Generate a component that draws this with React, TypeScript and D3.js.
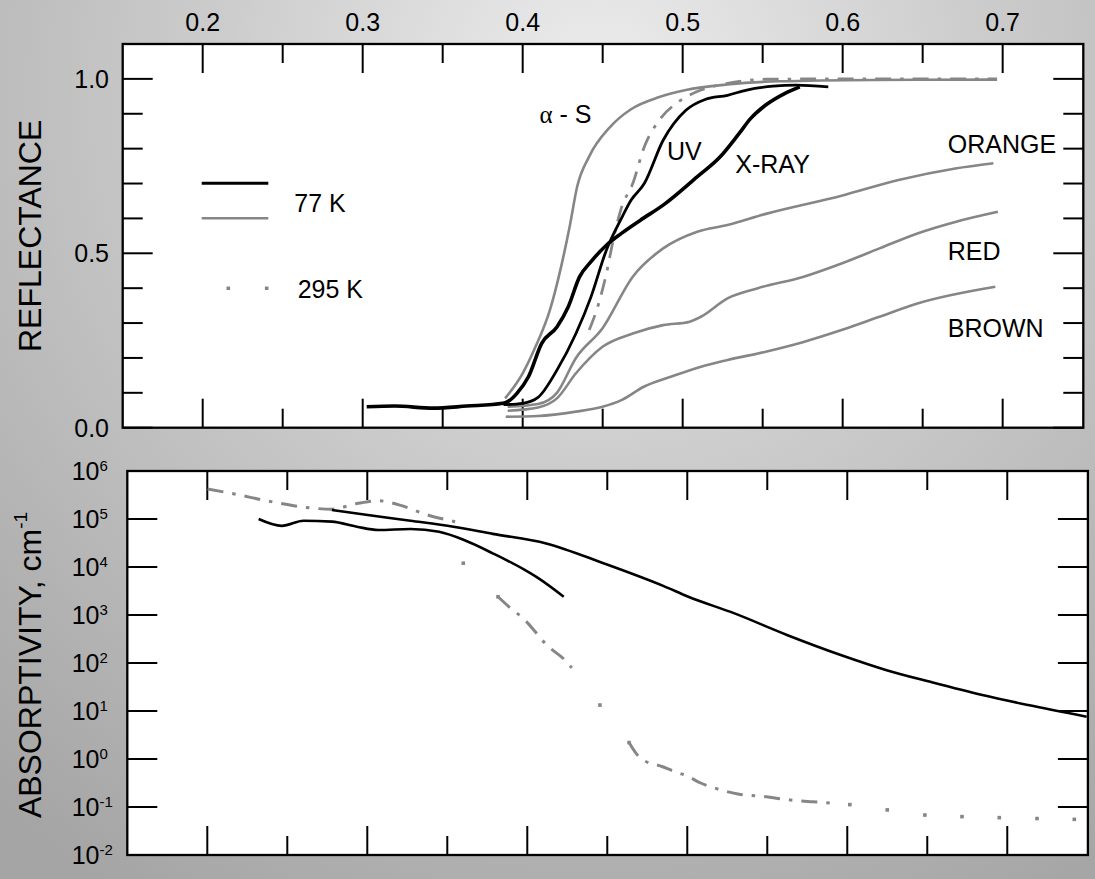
import React from "react";
import * as d3 from "d3";

// ---------- DATA ----------
// Wavelength (µm) ticks
const xMajorTicks = [0.2, 0.3, 0.4, 0.5, 0.6, 0.7];
const xMinorTicks = [0.25, 0.35, 0.45, 0.55, 0.65];
const reflMajorTicks = [0, 0.5, 1.0];
const reflMinorTicks = [0.1, 0.2, 0.3, 0.4, 0.6, 0.7, 0.8, 0.9];
const reflTickLabels = ["0.0", "0.5", "1.0"];
const absDecades = [-2, -1, 0, 1, 2, 3, 4, 5, 6];

// Reflectance curves [wavelength, reflectance]
const reflXray: [number, number][] = [
  [0.3025, 0.06], [0.32, 0.062], [0.344, 0.056], [0.365, 0.062], [0.3877, 0.07],
  [0.3906, 0.0745], [0.3964, 0.0985], [0.4036, 0.146], [0.4119, 0.242], [0.4214, 0.289],
  [0.4285, 0.347], [0.4356, 0.433], [0.4427, 0.476], [0.4523, 0.523], [0.4617, 0.557],
  [0.4736, 0.595], [0.4878, 0.638], [0.509, 0.719], [0.5233, 0.776], [0.5352, 0.843],
  [0.5424, 0.886], [0.5519, 0.925], [0.5637, 0.958], [0.5732, 0.977],
];
const reflUV: [number, number][] = [
  [0.388, 0.066], [0.4, 0.07], [0.4096, 0.087], [0.4214, 0.165], [0.4333, 0.27],
  [0.4427, 0.375], [0.4523, 0.509], [0.4617, 0.6], [0.4677, 0.652], [0.476, 0.7],
  [0.4878, 0.824], [0.502, 0.91], [0.514, 0.941], [0.528, 0.953], [0.54, 0.968],
  [0.5566, 0.979], [0.5708, 0.982], [0.591, 0.977],
];
const reflAlphaS: [number, number][] = [
  [0.389, 0.084], [0.4, 0.156], [0.408, 0.232], [0.417, 0.337], [0.424, 0.461],
  [0.4295, 0.58], [0.434, 0.69], [0.4416, 0.778], [0.4546, 0.862], [0.4677, 0.913],
  [0.4854, 0.948], [0.502, 0.968], [0.528, 0.984], [0.56, 0.993], [0.62, 0.997], [0.6965, 0.998],
];
const refl295K: [number, number][] = [
  [0.4416, 0.28], [0.4475, 0.356], [0.4523, 0.442], [0.457, 0.547], [0.4617, 0.63],
  [0.4688, 0.7], [0.476, 0.805], [0.4854, 0.882], [0.4973, 0.934], [0.5114, 0.968],
  [0.528, 0.987], [0.552, 0.999], [0.6, 1.0], [0.6965, 1.0],
];
const reflOrange: [number, number][] = [
  [0.3906, 0.06], [0.4096, 0.068], [0.4214, 0.1], [0.4333, 0.2], [0.4499, 0.285],
  [0.4688, 0.433], [0.4878, 0.514], [0.5091, 0.562], [0.528, 0.581], [0.552, 0.613],
  [0.5993, 0.665], [0.6349, 0.71], [0.6704, 0.743], [0.6942, 0.758],
];
const reflRed: [number, number][] = [
  [0.3906, 0.0487], [0.4096, 0.058], [0.4214, 0.084], [0.4333, 0.156], [0.4499, 0.232],
  [0.4688, 0.27], [0.4878, 0.294], [0.5044, 0.304], [0.5114, 0.318], [0.528, 0.371],
  [0.547, 0.4], [0.5756, 0.433], [0.5993, 0.471], [0.623, 0.514], [0.6467, 0.557],
  [0.6704, 0.59], [0.697, 0.619],
];
const reflBrown: [number, number][] = [
  [0.3894, 0.0315], [0.4096, 0.0335], [0.4333, 0.046], [0.4499, 0.06], [0.4617, 0.079],
  [0.476, 0.118], [0.4926, 0.146], [0.5115, 0.175], [0.528, 0.194], [0.5519, 0.218],
  [0.5756, 0.246], [0.5993, 0.28], [0.623, 0.318], [0.6467, 0.356], [0.6954, 0.404],
];

// Absorptivity curves [wavelength, cm^-1]
const abs77Upper: [number, number][] = [
  [0.2779, 1.54e5], [0.3003, 1.21e5], [0.327, 9.2e4], [0.3538, 6.9e4], [0.3784, 4.9e4],
  [0.4118, 3.1e4], [0.4476, 1.2e4], [0.4853, 4.0e3], [0.5007, 2.4e3], [0.5295, 1.08e3],
  [0.5627, 380], [0.5959, 147], [0.6246, 71], [0.6512, 41], [0.6844, 21.5], [0.7131, 13.3], [0.7496, 7.6],
];
const abs77Lower: [number, number][] = [
  [0.2321, 1.0e5], [0.2466, 7.2e4], [0.2601, 9.2e4], [0.2779, 8.8e4], [0.2935, 6.9e4],
  [0.3069, 5.9e4], [0.327, 6.2e4], [0.3449, 5.4e4], [0.3605, 3.65e4], [0.3784, 1.93e4],
  [0.3984, 8.7e3], [0.4078, 5.6e3], [0.4228, 2.4e3],
];
const abs295DashA: [number, number][] = [
  [0.2002, 4.2e5], [0.2154, 3.4e5], [0.2399, 2.3e5], [0.2645, 1.7e5], [0.2779, 1.6e5],
  [0.2935, 2.1e5], [0.3069, 2.4e5], [0.3203, 1.95e5], [0.3382, 1.2e5], [0.3549, 8.8e4],
];
const abs295DotsA: [number, number][] = [[0.36, 1.2e4], [0.3817, 2.4e3]];
const abs295DashB: [number, number][] = [
  [0.3817, 2.4e3], [0.3884, 1.5e3], [0.3984, 790], [0.4047, 460], [0.4111, 257],
  [0.4255, 98], [0.4278, 79],
];
const abs295DotsB: [number, number][] = [[0.4454, 13.3], [0.4636, 2.2]];
const abs295DashC: [number, number][] = [
  [0.4636, 2.2], [0.468, 1.31], [0.4716, 0.99], [0.4846, 0.69], [0.4907, 0.57],
  [0.5007, 0.43], [0.508, 0.32], [0.5145, 0.265], [0.5317, 0.187], [0.5494, 0.164],
  [0.5604, 0.145], [0.5716, 0.133], [0.5782, 0.129], [0.59, 0.12],
];
const abs295DotsC: [number, number][] = [
  [0.6016, 0.112], [0.625, 0.087], [0.6485, 0.068], [0.6717, 0.063], [0.695, 0.06],
  [0.7186, 0.0575], [0.7419, 0.0553],
];

// ---------- LAYOUT ----------
const W = 1095;
const H = 879;
const FONT = "'Liberation Sans', Arial, Helvetica, sans-serif";
const GRAY = "#868686";

const top = { left: 122.7, right: 1083.3, top: 44, bottom: 427.7 };
const bot = { left: 127.3, right: 1087.9, top: 471, bottom: 855 };

const xTop = d3.scaleLinear().domain([0.15, 0.7504]).range([top.left, top.right]);
const yTop = d3.scaleLinear().domain([0, 1.1]).range([top.bottom, top.top]);
const xBot = d3.scaleLinear().domain([0.15, 0.7504]).range([bot.left, bot.right]);
const yBot = d3.scaleLog().domain([1e-2, 1e6]).range([bot.bottom, bot.top]);

const lineTop = d3
  .line<[number, number]>()
  .x((d) => xTop(d[0]))
  .y((d) => yTop(d[1]))
  .curve(d3.curveMonotoneX);
const lineBot = d3
  .line<[number, number]>()
  .x((d) => xBot(d[0]))
  .y((d) => yBot(d[1]))
  .curve(d3.curveMonotoneX);

const DASHDOT = "16 9 3.5 9";

function Frame({ b }: { b: typeof top }) {
  return (
    <rect
      x={b.left}
      y={b.top}
      width={b.right - b.left}
      height={b.bottom - b.top}
      fill="#fff"
      stroke="#000"
      strokeWidth={2.3}
    />
  );
}

function XTicks({ b, x }: { b: typeof top; x: d3.ScaleLinear<number, number> }) {
  const out: React.ReactNode[] = [];
  xMajorTicks.forEach((t, i) => {
    const px = x(t);
    out.push(<line key={"mt" + i} x1={px} x2={px} y1={b.top} y2={b.top + 29} />);
    out.push(<line key={"mb" + i} x1={px} x2={px} y1={b.bottom} y2={b.bottom - 29} />);
  });
  xMinorTicks.forEach((t, i) => {
    const px = x(t);
    out.push(<line key={"nt" + i} x1={px} x2={px} y1={b.top} y2={b.top + 19} />);
    out.push(<line key={"nb" + i} x1={px} x2={px} y1={b.bottom} y2={b.bottom - 19} />);
  });
  return <g stroke="#000" strokeWidth={2}>{out}</g>;
}

export default function App() {
  const bg = (
    <defs>
      <radialGradient id="bg" gradientUnits="userSpaceOnUse" cx={600} cy={90} r={930}>
        <stop offset="0" stopColor="#ededed" />
        <stop offset="0.4" stopColor="#cdcdcd" />
        <stop offset="1" stopColor="#a5a5a5" />
      </radialGradient>
    </defs>
  );

  return (
    <svg
      width={W}
      height={H}
      viewBox={`0 0 ${W} ${H}`}
      style={{ position: "absolute", left: 0, top: 0, display: "block" }}
      fontFamily={FONT}
    >
      {bg}
      <rect x={0} y={0} width={W} height={H} fill="url(#bg)" />

      {/* ===== TOP PANEL: Reflectance ===== */}
      <Frame b={top} />
      <XTicks b={top} x={xTop} />
      <g stroke="#000" strokeWidth={2}>
        {reflMajorTicks.map((t, i) => (
          <g key={"rm" + i}>
            <line x1={top.left} x2={top.left + 30} y1={yTop(t)} y2={yTop(t)} />
            <line x1={top.right} x2={top.right - 30} y1={yTop(t)} y2={yTop(t)} />
          </g>
        ))}
        {reflMinorTicks.map((t, i) => (
          <g key={"rn" + i}>
            <line x1={top.left} x2={top.left + 20} y1={yTop(t)} y2={yTop(t)} />
            <line x1={top.right} x2={top.right - 20} y1={yTop(t)} y2={yTop(t)} />
          </g>
        ))}
      </g>
      {/* top tick labels */}
      <g fontSize={25} fill="#000" textAnchor="middle">
        {xMajorTicks.map((t, i) => (
          <text key={"xl" + i} x={xTop(t)} y={31}>
            {t.toFixed(1)}
          </text>
        ))}
      </g>
      <g fontSize={25} fill="#000" textAnchor="end">
        {reflMajorTicks.map((t, i) => (
          <text key={"yl" + i} x={109} y={yTop(t) + 9}>
            {reflTickLabels[i]}
          </text>
        ))}
      </g>
      <text
        transform={`translate(41, ${(top.top + top.bottom) / 2}) rotate(-90)`}
        textAnchor="middle"
        fontSize={32}
        fill="#000"
      >
        REFLECTANCE
      </text>

      {/* curves */}
      <g fill="none" strokeLinejoin="round">
        <path d={lineTop(reflBrown) || ""} stroke={GRAY} strokeWidth={2.6} />
        <path d={lineTop(reflRed) || ""} stroke={GRAY} strokeWidth={2.6} />
        <path d={lineTop(reflOrange) || ""} stroke={GRAY} strokeWidth={2.6} />
        <path d={lineTop(reflAlphaS) || ""} stroke={GRAY} strokeWidth={2.6} />
        <path d={lineTop(refl295K) || ""} stroke={GRAY} strokeWidth={2.8} strokeDasharray={DASHDOT} />
        <path d={lineTop(reflUV) || ""} stroke="#000" strokeWidth={2.8} />
        <path d={lineTop(reflXray) || ""} stroke="#000" strokeWidth={3.6} />
      </g>

      {/* labels */}
      <g fontSize={25} fill="#000">
        <text x={539.5} y={123.3}>
          <tspan fontFamily="'Liberation Serif', 'Times New Roman', serif">α</tspan>
          <tspan> - S</tspan>
        </text>
        <text x={667} y={160}>UV</text>
        <text x={735.3} y={173.3}>X-RAY</text>
        <text x={947.8} y={153.3}>ORANGE</text>
        <text x={947.8} y={260}>RED</text>
        <text x={947.8} y={336.7}>BROWN</text>
      </g>

      {/* legend */}
      <line x1={201.7} x2={268.3} y1={183.3} y2={183.3} stroke="#000" strokeWidth={3} />
      <line x1={201.7} x2={268.3} y1={218.3} y2={218.3} stroke={GRAY} strokeWidth={2.6} />
      <text x={294.3} y={212} fontSize={25}>77 K</text>
      <line
        x1={226.5}
        x2={268.5}
        y1={288.3}
        y2={288.3}
        stroke={GRAY}
        strokeWidth={3.5}
        strokeDasharray="3.6 34.8 3.6 40"
      />
      <text x={297.7} y={298.3} fontSize={25}>295 K</text>

      {/* ===== BOTTOM PANEL: Absorptivity ===== */}
      <Frame b={bot} />
      <XTicks b={bot} x={xBot} />
      <g stroke="#000" strokeWidth={2}>
        {absDecades.map((e, i) => {
          const py = yBot(Math.pow(10, e));
          return (
            <g key={"ad" + i}>
              <line x1={bot.left} x2={bot.left + 30} y1={py} y2={py} />
              <line x1={bot.right} x2={bot.right - 30} y1={py} y2={py} />
            </g>
          );
        })}
      </g>
      <g fill="#000">
        {absDecades.map((e, i) => {
          const py = yBot(Math.pow(10, e));
          return (
            <text key={"al" + i} x={71.7} y={py + 9} fontSize={25}>
              10
              <tspan fontSize={15} dy={-9.5}>
                {String(e)}
              </tspan>
            </text>
          );
        })}
      </g>
      <text
        transform={`translate(41, ${(bot.top + bot.bottom) / 2 + 2}) rotate(-90)`}
        textAnchor="middle"
        fontSize={32}
        fill="#000"
      >
        ABSORPTIVITY, cm
        <tspan fontSize={19} dy={-14}>-1</tspan>
      </text>

      <g fill="none" strokeLinejoin="round">
        <path d={lineBot(abs295DashA) || ""} stroke={GRAY} strokeWidth={3} strokeDasharray={DASHDOT} />
        <path d={lineBot(abs295DashB) || ""} stroke={GRAY} strokeWidth={3} strokeDasharray={DASHDOT} />
        <path d={lineBot(abs295DashC) || ""} stroke={GRAY} strokeWidth={3} strokeDasharray={DASHDOT} />
        <path d={lineBot(abs77Upper) || ""} stroke="#000" strokeWidth={2.6} />
        <path d={lineBot(abs77Lower) || ""} stroke="#000" strokeWidth={2.6} />
      </g>
      <g fill={GRAY}>
        {[...abs295DotsA, ...abs295DotsB, ...abs295DotsC].map((d, i) => (
          <rect key={"dt" + i} x={xBot(d[0]) - 1.8} y={yBot(d[1]) - 1.8} width={3.6} height={3.6} />
        ))}
      </g>
    </svg>
  );
}
